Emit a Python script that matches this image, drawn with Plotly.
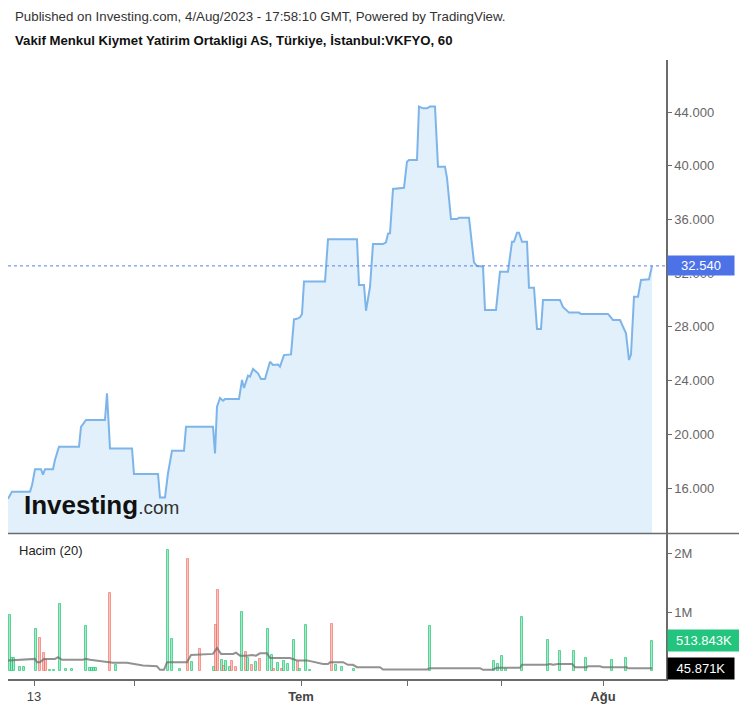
import plotly.graph_objects as go

# ---------------- data ----------------
# hourly bar index (x) and close price (y) at the vertices of the line
price_idx = [0, 2, 11, 12, 13.5, 16.5, 17.5, 18.5, 22.5, 23.5, 25.5, 35.5, 36.5, 39, 48.5, 49.5,
             51, 62, 63, 75, 76, 78.5, 80, 82, 88, 89, 102.5, 103.5, 104.5, 106, 107.5, 108.5,
             115.5, 117, 118, 120, 121, 122.5, 125, 126.5, 128.5, 131, 132.5, 135, 136, 138, 141.5,
             143, 144.5, 146, 147, 148, 158.5, 160, 174.5, 175.5, 178, 179, 181, 182.5, 187.5,
             189, 190, 191, 192.5, 196.5, 198, 199.5, 200.5, 204.5, 205.5, 207.5, 209.5, 211,
             213.5, 215, 218.5, 219.5, 221.5, 224.5, 225.5, 230.5, 232, 233, 234.5, 237.5, 238.5,
             244, 246, 250, 252, 253, 254.5, 255.5, 257, 259.5, 260.5, 263, 264.5, 266.5, 267.5,
             276, 277.5, 280.5, 285.5, 286.5, 300, 302.5, 306, 307.5, 309, 310.5, 311.5, 313, 315,
             316.5, 319.5, 320.5, 322]
price_val = [15.2, 15.73, 15.73, 16.2, 17.4, 17.4, 17.0, 17.4, 17.4, 18.1, 19.07, 19.07, 20.55, 21.07, 21.07, 23.05,
             18.95, 18.95, 17.04, 17.04, 15.3, 15.3, 17.1, 18.78, 18.78, 20.57, 20.57, 18.58, 22.06, 22.7, 22.5, 22.62,
             22.62, 24.04, 23.45, 24.37, 24.3, 24.86, 24.54, 24.12, 24.12, 25.4, 25.16, 25.2, 25.04, 25.9, 25.95,
             28.56, 28.6, 28.71, 28.96, 31.37, 31.37, 34.52, 34.52, 31.12, 31.12, 29.2, 30.97, 34.17, 34.17,
             34.3, 34.95, 34.97, 38.27, 38.3, 38.36, 40.3, 40.43, 40.43, 44.4, 44.27, 44.27, 44.4,
             44.4, 39.93, 39.93, 39.1, 36.03, 36.03, 36.13, 36.13, 34.0, 32.8, 32.53, 32.5, 29.26,
             29.26, 32.11, 32.11, 34.34, 34.34, 35.01, 35.01, 34.34, 34.34, 30.92, 30.92, 27.84, 27.84, 30.0,
             30.0, 29.48, 29.06, 29.06, 28.96, 28.96, 28.51, 28.51, 28.0, 27.52, 25.53, 25.96, 30.25, 30.25,
             31.49, 31.49, 31.54, 32.54]
last_price = 32.540

# volume bars (millions): bar index, volume, direction (u = up / green, d = down / red)
vol_idx = [1, 2, 3, 6, 8,
           14, 16, 18, 19, 21, 23, 26, 29, 32,
           39, 41, 42, 43, 44, 51, 54,
           80, 82, 86, 90, 92, 96,
           103, 104, 105, 107, 108, 109, 111, 112, 114,
           117, 119, 120, 122, 124, 126,
           130, 132, 133, 135, 137, 138, 140,
           143, 145, 146, 149, 151,
           162, 164, 167, 173,
           211,
           243, 245, 247, 249, 257, 270, 276, 283, 289, 302, 309, 322]
vol_val = [0.95, 0.22, 0.22, 0.06, 0.06,
           0.71, 0.56, 0.31, 0.18, 0.02, 0.02, 1.13, 0.03, 0.03,
           0.76, 0.05, 0.05, 0.05, 0.05, 1.33, 0.10,
           2.05, 0.54, 0.04, 1.90, 0.15, 0.37,
           0.06, 0.78, 1.37, 0.18, 0.08, 0.17, 0.06, 0.17, 0.06,
           1.00, 0.33, 0.22, 0.10, 0.15, 0.20,
           0.71, 0.27, 0.04, 0.13, 0.03, 0.17, 0.12,
           0.52, 0.15, 0.04, 0.78, 0.02,
           0.80, 0.10, 0.06, 0.04,
           0.76,
           0.17, 0.12, 0.25, 0.04, 0.91, 0.53, 0.34, 0.34, 0.22, 0.18, 0.22, 0.514]
vol_dir = ("uuuuu" + "uddduuuuu" + "uuuuudu" + "uuudud" + "udduduudd" + "ududud"
           + "uududuu" + "uduuu" + "duuu" + "u" + "uuuuuuuuuuuu")
last_vol_label = "513.843K"

# 20-bar moving average of volume (millions)
ma_idx = [0, 8.5, 11, 13.5, 14.5, 16, 18, 23.5, 25, 27, 37.5, 39, 41, 49.5, 52.5, 59.5, 62.5,
          67.5, 74.5, 76, 78, 79.5, 89.5, 91.5, 102.5, 104.5, 106.5, 112.5, 114, 116, 119.5,
          122, 124, 126, 129.5, 131, 141, 144.5, 149.5, 154.5, 157.5, 160, 161, 167.5, 170,
          172.5, 174.5, 186, 187.5, 209.5, 211, 236, 237.5, 242, 244.5, 256, 257, 269.5, 271,
          272.5, 275, 282, 283.5, 289.5, 290, 296, 297.5, 309.5, 310, 321, 322]
ma_val = [0.178, 0.19, 0.205, 0.205, 0.15, 0.15, 0.205, 0.205, 0.235, 0.19, 0.19, 0.205, 0.19, 0.15, 0.14, 0.14, 0.122,
          0.093, 0.08, 0.02, 0.02, 0.15, 0.15, 0.27, 0.29, 0.39, 0.29, 0.29, 0.31, 0.26, 0.26,
          0.27, 0.26, 0.30, 0.30, 0.22, 0.22, 0.18, 0.18, 0.15, 0.12, 0.12, 0.15, 0.15, 0.105,
          0.105, 0.065, 0.065, 0.025, 0.025, 0.048, 0.048, 0.02, 0.02, 0.055, 0.055, 0.105, 0.105, 0.12,
          0.105, 0.12, 0.12, 0.065, 0.065, 0.08, 0.08, 0.065, 0.065, 0.048, 0.048, 0.0459]
last_ma_label = "45.871K"

x_tick_pos = [13, 63, 146.5, 199.5, 246.5, 297.5]
x_tick_text = ["13", "", "<b>Tem</b>", "", "", "<b>Ağu</b>"]
price_ticks = [16, 20, 24, 28, 32, 36, 40, 44]
vol_ticks = [1, 2]
vol_tick_text = ["1M", "2M"]

title_line1 = "Published on Investing.com, 4/Aug/2023 - 17:58:10 GMT, Powered by TradingView."
title_line2 = "Vakif Menkul Kiymet Yatirim Ortakligi AS, Türkiye, İstanbul:VKFYO, 60"

# ---------------- layout geometry ----------------
# the page body adds an 8px margin, so the figure is 8px smaller and offset
OFF = 8
W, H = 747 - OFF, 707 - OFF
ML, MR, MT, MB = 8 - OFF, 81, 60 - OFF, 28
PW, PH = W - ML - MR, H - MT - MB


def px(x):
    """reference screenshot x (pixels) -> paper x"""
    return (x - OFF - ML) / PW


def py(y):
    """reference screenshot y (pixels) -> paper y"""
    return (H - MB - (y - OFF)) / PH


FONT = "Arial, Liberation Sans, sans-serif"
GREEN_FILL = "rgba(38, 204, 122, 0.42)"
GREEN_LINE = "rgba(38, 196, 118, 0.7)"
RED_FILL = "rgba(245, 110, 100, 0.42)"
RED_LINE = "rgba(240, 110, 100, 0.65)"

fig = go.Figure()

fig.add_trace(go.Scatter(
    x=price_idx, y=price_val, mode="lines", xaxis="x", yaxis="y",
    line=dict(color="#7db5ea", width=2), fill="tozeroy", fillcolor="#e1f0fa",
    hoverinfo="skip", showlegend=False))

fig.add_trace(go.Bar(
    x=vol_idx, y=vol_val, xaxis="x", yaxis="y2", width=1.4,
    marker=dict(color=[GREEN_FILL if d == "u" else RED_FILL for d in vol_dir],
                line=dict(color=[GREEN_LINE if d == "u" else RED_LINE for d in vol_dir], width=1)),
    hoverinfo="skip", showlegend=False))

fig.add_trace(go.Scatter(
    x=ma_idx, y=ma_val, mode="lines", xaxis="x", yaxis="y2",
    line=dict(color="rgba(110,110,110,0.75)", width=2),
    hoverinfo="skip", showlegend=False))

axis_col = "#6b6b6b"
fig.update_layout(
    width=W, height=H, margin=dict(l=ML, r=MR, t=MT, b=MB),
    paper_bgcolor="white", plot_bgcolor="white", bargap=0,
    font=dict(family=FONT, size=13, color="#555"),
    xaxis=dict(domain=[0, 1], anchor="y2", range=[0, 329], showgrid=False, zeroline=False,
               showline=True, linecolor=axis_col, linewidth=1.5, ticks="outside", ticklen=5,
               tickcolor=axis_col, tickvals=x_tick_pos, ticktext=x_tick_text,
               tickfont=dict(size=13, color="#444", family=FONT)),
    yaxis=dict(domain=[py(533), 1], anchor="x", side="right", range=[12.649, 47.872],
               showgrid=False, zeroline=False, showline=True, linecolor=axis_col, linewidth=1.5,
               ticks="outside", ticklen=4, tickcolor=axis_col, tickvals=price_ticks,
               tickformat=".3f", tickfont=dict(size=13, color="#666", family=FONT)),
    yaxis2=dict(domain=[0, py(534)], anchor="x", side="right", range=[-0.1356, 2.322],
                showgrid=False, zeroline=False, showline=True, linecolor=axis_col, linewidth=1.5,
                ticks="outside", ticklen=4, tickcolor=axis_col, tickvals=vol_ticks,
                ticktext=vol_tick_text, tickfont=dict(size=13, color="#666", family=FONT)),
)

fig.add_shape(type="line", xref="paper", yref="y", x0=0, x1=1, y0=last_price, y1=last_price,
              line=dict(color="#5b7ff0", width=1, dash="dot"))
fig.add_shape(type="line", xref="paper", yref="paper", x0=0, x1=px(740), y0=py(533.5), y1=py(533.5),
              line=dict(color=axis_col, width=1.5))

ann = [
    dict(text=title_line1, x=px(13), y=py(17), font=dict(size=13.3, color="#333", family=FONT)),
    dict(text="<b>" + title_line2 + "</b>", x=px(13), y=py(40), font=dict(size=13.2, color="#111", family=FONT)),
    dict(text="Hacim (20)", x=px(17), y=py(550), font=dict(size=13, color="#222", family=FONT)),
    dict(text="<b>Investing</b><span style='font-size:19px;color:#333'>.com</span>", x=px(22), y=py(505),
         font=dict(size=26, color="#111", family=FONT)),
]
for a in ann:
    fig.add_annotation(xref="paper", yref="paper", xanchor="left", yanchor="middle",
                       showarrow=False, **a)

fig.add_annotation(xref="paper", yref="y", x=px(667), y=last_price, xanchor="left", yanchor="middle",
                   text=f"{last_price:.3f}", showarrow=False, bgcolor="#4d72e8", borderpad=2,
                   width=62, align="center", font=dict(size=13, color="white", family=FONT))
fig.add_annotation(xref="paper", yref="y2", x=px(667), y=vol_val[-1], xanchor="left", yanchor="middle",
                   text=last_vol_label, showarrow=False, bgcolor="#23c47e", borderpad=3,
                   width=66, align="center", font=dict(size=13, color="white", family=FONT))
fig.add_annotation(xref="paper", yref="y2", x=px(667), y=ma_val[-1], xanchor="left", yanchor="middle",
                   text=last_ma_label, showarrow=False, bgcolor="#000000", borderpad=3,
                   width=60, align="center", font=dict(size=13, color="white", family=FONT))

fig.write_html("out.html")
